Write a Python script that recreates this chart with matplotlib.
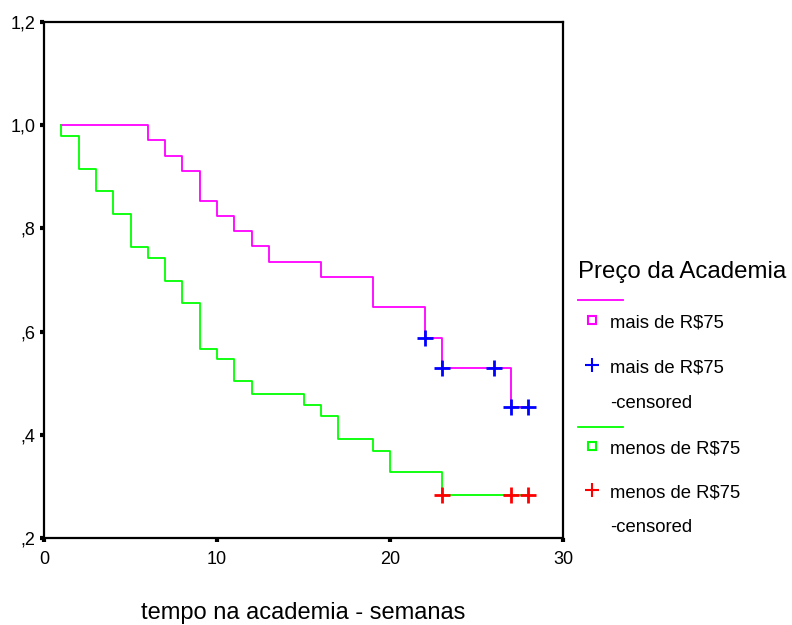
import numpy as np
import matplotlib
matplotlib.use('Agg')
import matplotlib.pyplot as plt
from matplotlib.lines import Line2D

plt.rcParams['font.family'] = ['Liberation Sans', 'DejaVu Sans']

# Kaplan-Meier steps, group "mais de R$75"
mais_t = [1, 6, 7, 8, 9, 10, 11, 12, 13, 16, 19, 22, 23, 27, 28]
mais_s = [1.0, 0.971, 0.941, 0.912, 0.853, 0.824, 0.794, 0.765, 0.735,
          0.706, 0.647, 0.588, 0.529, 0.453, 0.453]
mais_cens = [22, 23, 26, 27, 28]

# group "menos de R$75"
menos_t = [1, 1, 2, 3, 4, 5, 6, 7, 8, 9, 10, 11, 12, 15, 16, 17, 19, 20, 23, 28]
menos_s = [1.0, 0.98, 0.915, 0.872, 0.828, 0.763, 0.743, 0.698, 0.656, 0.566,
           0.546, 0.504, 0.480, 0.458, 0.437, 0.392, 0.369, 0.328, 0.283, 0.283]
menos_cens = [23, 27, 28]

yticks = [0.2, 0.4, 0.6, 0.8, 1.0, 1.2]
ylabels = [',2', ',4', ',6', ',8', '1,0', '1,2']
xticks = [0, 10, 20, 30]


def surv_at(times, surv, t):
    idx = max(i for i, tt in enumerate(times) if tt <= t)
    return surv[idx]


fig = plt.figure(figsize=(7.92, 6.25), dpi=100)
ax = fig.add_axes([44/792, 1 - 538/625, (563 - 44)/792, (538 - 22)/625])

ax.step(mais_t, mais_s, where='post', color='#ff00ff', lw=1.3)
ax.step(menos_t, menos_s, where='post', color='#00ff00', lw=1.3)

ax.plot(mais_cens, [surv_at(mais_t, mais_s, t) for t in mais_cens],
        ls='none', marker='+', color='#0000ff', ms=11, mew=2)
ax.plot(menos_cens, [surv_at(menos_t, menos_s, t) for t in menos_cens],
        ls='none', marker='+', color='#ff0000', ms=11, mew=2)

ax.set_xlim(0, 30)
ax.set_ylim(0.2, 1.2)
ax.set_xticks(xticks)
ax.set_yticks(yticks)
ax.set_yticklabels(ylabels)
ax.tick_params(direction='out', length=3, width=3, labelsize=13)
ax.tick_params(axis='x', pad=6)
ax.tick_params(axis='y', pad=3)
for s in ax.spines.values():
    s.set_linewidth(1.6)
fig.text(303/792, 1 - 613/625, 'tempo na academia - semanas', fontsize=17,
         ha='center', va='center')

# legend drawn by hand
fig.text(578/792, 1 - 272/625, 'Preço da Academia', fontsize=17.3, va='center')
items = [
    ('line', '#ff00ff', 300, None),
    ('s', '#ff00ff', 323, 'mais de R$75'),
    ('+', '#0000ff', 368, 'mais de R$75'),
    (None, None, 403, '-censored'),
    ('line', '#00ff00', 427, None),
    ('s', '#00ff00', 449, 'menos de R$75'),
    ('+', '#ff0000', 493, 'menos de R$75'),
    (None, None, 528, '-censored'),
]
for kind, col, ypix, label in items:
    yf = 1 - ypix / 625
    if kind == 'line':
        fig.add_artist(Line2D([578/792, 623/792], [yf, yf], color=col, lw=1.3))
    elif kind == 's':
        fig.add_artist(Line2D([592/792], [yf + 3/625], marker='s', ms=6,
                              mfc='white', mec=col, mew=1.5, ls='none'))
    elif kind == '+':
        fig.add_artist(Line2D([592/792], [yf + 3/625], marker='+', ms=10,
                              color=col, mew=1.5, ls='none'))
    if label:
        fig.text(610/792, yf, label, fontsize=13.3, va='center')

fig.savefig('out.png', dpi=100)
